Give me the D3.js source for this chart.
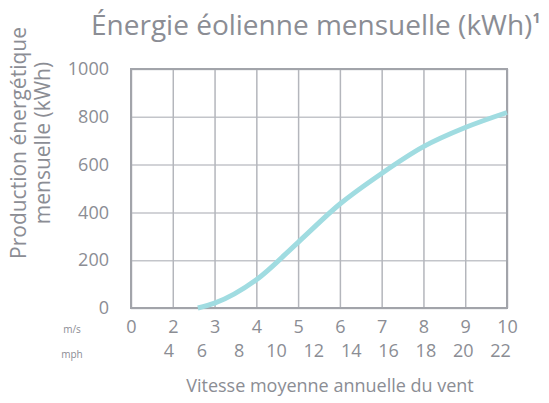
<!DOCTYPE html>
<html>
<head>
<meta charset="utf-8">
<script src="https://cdn.jsdelivr.net/npm/d3@7"></script>
<style>
  body { margin: 0; background: #fff; }
  text { font-family: "Open Sans", sans-serif; fill: #8b8d94; }
  .axis path { display: none; }
</style>
</head>
<body>
<div id="chart"></div>
<script>
// data
const msTicks = [0, 2, 3, 4, 5, 6, 7, 8, 9, 10];
const mphTicks = [4, 6, 8, 10, 12, 14, 16, 18, 20, 22];
const yTicks = [0, 200, 400, 600, 800, 1000];
const speedMs = [2.6, 3, 4, 5, 6, 7, 8, 9, 10];
const energyKwh = [0, 20, 118, 275, 435, 563, 675, 755, 818];
const MPH_TO_MS = 0.44704;

var margin = {top: 69, right: 42, bottom: 95, left: 131},
    width = 549 - margin.left - margin.right,
    height = 403 - margin.top - margin.bottom;

var svg = d3.select("#chart")
    .append("svg")
    .attr("width", 549)
    .attr("height", 403);

var g = svg.append("g")
    .attr("transform", "translate(" + margin.left + "," + margin.top + ")");

// grid columns are equal width even though the m/s steps are not
var x = d3.scaleLinear()
    .domain(msTicks)
    .range(msTicks.map(function(d, i) { return i * width / (msTicks.length - 1); }));

// same piecewise scale, expressed in mph
var xMph = d3.scaleLinear()
    .domain(msTicks.map(function(d) { return d / MPH_TO_MS; }))
    .range(x.range());

var y = d3.scaleLinear()
    .domain([0, 1000])
    .range([height, 0]);

// grid
g.append("g")
    .attr("class", "axis grid")
    .call(d3.axisLeft(y).tickValues(yTicks).tickSize(-width).tickFormat(""))
    .selectAll("line")
    .style("stroke", "#c3c5ca")
    .style("stroke-width", 1.5);

g.append("g")
    .attr("class", "axis grid")
    .attr("transform", "translate(0," + height + ")")
    .call(d3.axisBottom(x).tickValues(msTicks).tickSize(-height).tickFormat(""))
    .selectAll("line")
    .style("stroke", "#b4b6bc")
    .style("stroke-width", 1.5);

g.append("rect")
    .attr("x", 0)
    .attr("y", 0)
    .attr("width", width)
    .attr("height", height)
    .style("fill", "none")
    .style("stroke", "#a2a4aa")
    .style("stroke-width", 2);

// curve
var line = d3.line()
    .x(function(d, i) { return x(speedMs[i]); })
    .y(function(d) { return y(d); })
    .curve(d3.curveMonotoneX);

g.append("path")
    .datum(energyKwh)
    .attr("d", line)
    .style("fill", "none")
    .style("stroke", "#a0dce1")
    .style("stroke-width", 5)
    .style("stroke-linecap", "butt");

// y labels
g.append("g")
    .attr("class", "axis")
    .call(d3.axisLeft(y).tickValues(yTicks).tickSize(0).tickPadding(22).tickFormat(d3.format("d")))
    .selectAll("text")
    .style("font-size", "18px");

// m/s labels
g.append("g")
    .attr("class", "axis")
    .attr("transform", "translate(0," + height + ")")
    .call(d3.axisBottom(x).tickValues(msTicks).tickSize(0).tickPadding(12))
    .selectAll("text")
    .style("font-size", "18px");

// mph labels
g.append("g")
    .attr("class", "axis")
    .attr("transform", "translate(0," + (height + 24) + ")")
    .call(d3.axisBottom(xMph).tickValues(mphTicks).tickSize(0).tickPadding(12))
    .selectAll("text")
    .style("font-size", "18px");

svg.append("text")
    .attr("x", 72)
    .attr("y", 333)
    .attr("text-anchor", "middle")
    .style("font-size", "10px")
    .text("m/s");

svg.append("text")
    .attr("x", 72)
    .attr("y", 358)
    .attr("text-anchor", "middle")
    .style("font-size", "10px")
    .text("mph");

// titles
var title = svg.append("text")
    .attr("x", 91)
    .attr("y", 35)
    .style("font-size", "28px")
    .text("Énergie éolienne mensuelle (kWh)");
title.append("tspan")
    .attr("dy", -12)
    .style("font-size", "14px")
    .style("font-weight", "bold")
    .text("1");

svg.append("text")
    .attr("x", 330)
    .attr("y", 392)
    .attr("text-anchor", "middle")
    .style("font-size", "18px")
    .text("Vitesse moyenne annuelle du vent");

var ylab = svg.append("text")
    .attr("transform", "translate(26,143) rotate(-90)")
    .attr("text-anchor", "middle")
    .style("font-size", "21px");
ylab.append("tspan").attr("x", 0).attr("y", 0).text("Production énergétique");
ylab.append("tspan").attr("x", 0).attr("y", 24).text("mensuelle (kWh)");
</script>
</body>
</html>
